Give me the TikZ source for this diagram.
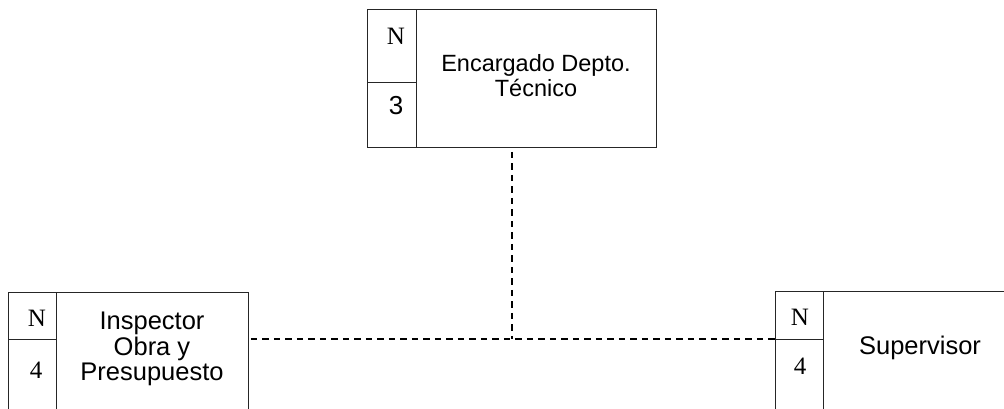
\documentclass[tikz,border=0pt]{standalone}
\usepackage{fontspec}
\setmainfont{Liberation Sans}
\newfontfamily\serifN{Liberation Serif}
\begin{document}
\begin{tikzpicture}[x=1pt,y=-1pt,
  cell/.style={draw=black!85,line width=0.8pt,rectangle,inner sep=0pt,anchor=north west},
  conn/.style={line width=1.3pt,dash pattern=on 6.5pt off 5pt},
  lbl/.style={inner sep=0pt,align=center},
  bigA/.style={font=\fontsize{23.5}{25}\selectfont},
  bigB/.style={font=\fontsize{25.5}{25.5}\selectfont},
  numS/.style={font=\serifN\fontsize{25}{25}\selectfont,inner sep=0pt},
  numA/.style={font=\fontsize{26}{26}\selectfont,inner sep=0pt}]
\useasboundingbox (0,0) rectangle (1004,408);
\clip (0,0) rectangle (1004,408);
% top box
\node[cell,minimum width=49pt,minimum height=73pt] (topN) at (367,9) {};
\node[cell,minimum width=49pt,minimum height=65pt] (top3) at (367,82) {};
\node[cell,minimum width=240pt,minimum height=138pt] (topname) at (416,9) {};
\node[numS] (tNl) at (396,36) {N};
\node[numA] (t3l) at (396,106) {3};
\node[lbl,bigA] (tname) at (536,76) {Encargado Depto.\\Técnico};
% left box
\node[cell,minimum width=48pt,minimum height=47pt] (leftN) at (8,292) {};
\node[cell,minimum width=48pt,minimum height=81pt] (left4) at (8,339) {};
\node[cell,minimum width=192pt,minimum height=128pt] (leftname) at (56,292) {};
\node[numS] (lNl) at (37,318) {N};
\node[numS] (l4l) at (36,370) {4};
\node[lbl,bigB] (lname) at (152,349) {Inspector\\Obra y\\Presupuesto};
% right box
\node[cell,minimum width=48pt,minimum height=48pt] (rightN) at (775,291) {};
\node[cell,minimum width=48pt,minimum height=81pt] (right4) at (775,339) {};
\node[cell,minimum width=187pt,minimum height=129pt] (rightname) at (823,291) {};
\node[numS] (rNl) at (800,317) {N};
\node[numS] (r4l) at (800,366) {4};
\node[lbl,bigB] (rname) at (920,348) {Supervisor};
% connectors
\coordinate (J) at (512,339);
\draw[conn] (topname.south -| J) ++(0,4) -- (J);
\draw[conn] (leftname.east |- J) ++(2,0) -- (rightN.west |- J);
\end{tikzpicture}
\end{document}
